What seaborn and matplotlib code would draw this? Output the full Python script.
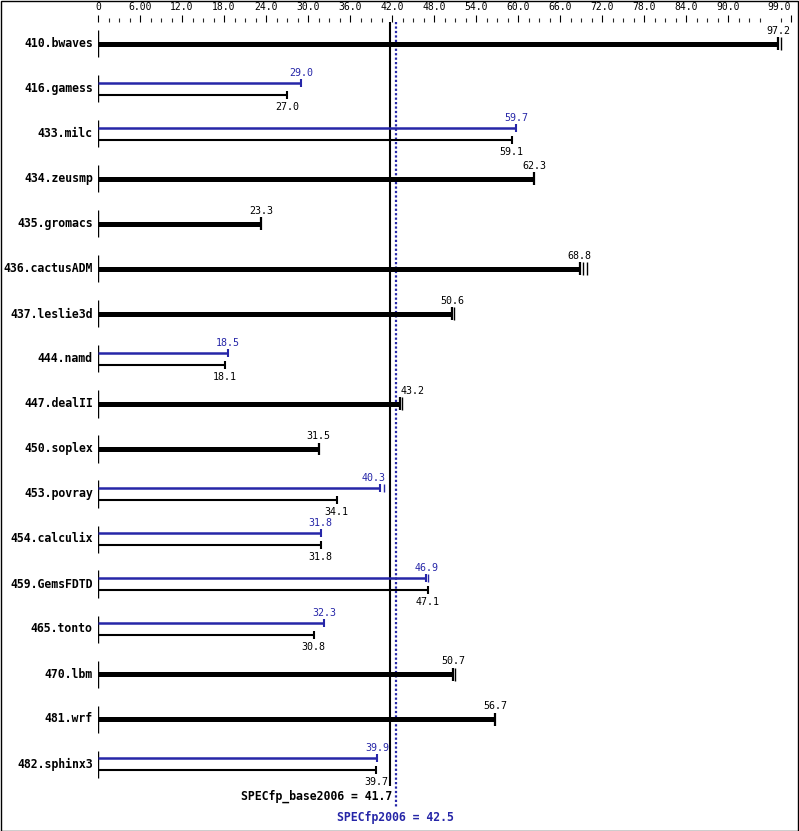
import matplotlib
matplotlib.use("Agg")
import matplotlib.pyplot as plt
import seaborn as sns
import pandas as pd
from matplotlib.patches import Rectangle

benchmarks = ["410.bwaves", "416.gamess", "433.milc", "434.zeusmp", "435.gromacs",
              "436.cactusADM", "437.leslie3d", "444.namd", "447.dealII", "450.soplex",
              "453.povray", "454.calculix", "459.GemsFDTD", "465.tonto", "470.lbm",
              "481.wrf", "482.sphinx3"]
base_scores = [97.2, 27.0, 59.1, 62.3, 23.3, 68.8, 50.6, 18.1, 43.2, 31.5,
               34.1, 31.8, 47.1, 30.8, 50.7, 56.7, 39.7]
# None = peak identical to base (drawn as one thick bar)
peak_scores = [None, 29.0, 59.7, None, None, None, None, 18.5, None, None,
               40.3, 31.8, 46.9, 32.3, None, None, 39.9]
# extra individual-run ticks seen at bar ends
extra_base_runs = {"410.bwaves": [97.5], "436.cactusADM": [69.3, 69.8],
                   "437.leslie3d": [50.9], "447.dealII": [43.4], "470.lbm": [51.0]}
extra_peak_runs = {"453.povray": [40.8], "459.GemsFDTD": [47.1]}
tick_major = [0, 6, 12, 18, 24, 30, 36, 42, 48, 54, 60, 66, 72, 78, 84, 90, 99]
tick_labels = ["0", "6.00", "12.0", "18.0", "24.0", "30.0", "36.0", "42.0", "48.0",
               "54.0", "60.0", "66.0", "72.0", "78.0", "84.0", "90.0", "99.0"]
spec_base = 41.7
spec_peak = 42.5

BLUE = "#2626a8"
df = pd.DataFrame({"bench": benchmarks, "base": base_scores, "peak": peak_scores})
df["row"] = range(len(df))

# label placement tweaks (alignment / x-shift in data units) to avoid the mean lines
label_style = {("447.dealII", "base"): ("left", 0.0), ("453.povray", "peak"): ("center", -0.9)}

sns.set_style("white")
plt.rcParams["font.family"] = ["DejaVu Sans Mono"]

W, H = 799, 831
fig = plt.figure(figsize=(W / 100, H / 100), dpi=100)
ax_left, ax_right, ax_top, ax_bot = 98, 791, 22, 825
ax = fig.add_axes([ax_left / W, (H - ax_bot) / H, (ax_right - ax_left) / W, (ax_bot - ax_top) / H])
row0, rowh = 44, 45
px = 1 / rowh  # one pixel in y data units
ax.set_xlim(0, 99)
ax.set_ylim((ax_bot - row0) / rowh, (ax_top - row0) / rowh)
for s in ax.spines.values():
    s.set_visible(False)
ax.patch.set_alpha(0)

# top ticks
ax.xaxis.tick_top()
ax.set_xticks(tick_major)
ax.set_xticklabels(tick_labels, fontsize=7.0)
ax.get_xticklabels()[-1].set_horizontalalignment("right")
minors = [m * 1.5 for m in range(0, 66) if (m * 1.5) % 6 != 0]
ax.set_xticks(minors, minor=True)
ax.tick_params(axis="x", which="major", length=5, width=0.8, pad=2, top=True, bottom=False, direction="out", colors="black")
ax.tick_params(axis="x", which="minor", length=2.8, width=0.8, top=True, bottom=False, direction="out")
ax.set_yticks([])

def label(bench, kind, x, y, txt, color):
    ha, dx = label_style.get((bench, kind), ("center", 0.0))
    ax.text(x + dx, y, txt, ha=ha, va="center", fontsize=7.2, color=color, zorder=5)

for _, r in df.iterrows():
    y = r["row"]
    b = r["bench"]
    ax.vlines(0, y - 13.5 * px, y + 13.5 * px, color="black", lw=1.0, zorder=3)
    ax.text(-0.75, y, b, ha="right", va="center", fontsize=8.3, fontweight="bold", color="black")
    if pd.isna(r["peak"]):
        ax.hlines(y, 0, r["base"], color="black", lw=3.6, zorder=3)
        ax.vlines(r["base"], y - 6.5 * px, y + 6.5 * px, color="black", lw=1.6, zorder=3)
        for v in extra_base_runs.get(b, []):
            ax.vlines(v, y - 6.5 * px, y + 6.5 * px, color="black", lw=1.0, zorder=3)
        label(b, "base", r["base"], y - 13 * px, f"{r['base']:.1f}", "black")
    else:
        yp, yb = y - 6 * px, y + 6 * px
        ax.hlines(yp, 0, r["peak"], color=BLUE, lw=1.8, zorder=3)
        ax.vlines(r["peak"], yp - 4 * px, yp + 4 * px, color=BLUE, lw=1.5, zorder=3)
        for v in extra_peak_runs.get(b, []):
            ax.vlines(v, yp - 4 * px, yp + 4 * px, color=BLUE, lw=1.0, zorder=3)
        label(b, "peak", r["peak"], y - 16 * px, f"{r['peak']:.1f}", BLUE)
        ax.hlines(yb, 0, r["base"], color="black", lw=1.5, zorder=3)
        ax.vlines(r["base"], yb - 4 * px, yb + 4 * px, color="black", lw=1.5, zorder=3)
        label(b, "base", r["base"], y + 18 * px, f"{r['base']:.1f}", "black")

ytop = (ax_top - row0) / rowh
ax.vlines(spec_base, ytop, (786 - row0) / rowh, color="black", lw=1.5, zorder=1)
ax.vlines(spec_peak, ytop, (808 - row0) / rowh, color=BLUE, lw=1.6, linestyles=(0, (1, 1)), zorder=1)
ax.text(spec_base + 0.3, (796 - row0) / rowh, f"SPECfp_base2006 = {spec_base:.1f}", ha="right",
        va="center", fontsize=8.3, fontweight="bold", color="black")
ax.text(spec_peak, (817 - row0) / rowh, f"SPECfp2006 = {spec_peak:.1f}", ha="center",
        va="center", fontsize=8.3, fontweight="bold", color=BLUE)

fig.patches.append(Rectangle((0.5 / W, 0.5 / H), (W - 1.5) / W, (H - 1.5) / H, transform=fig.transFigure,
                             fill=False, edgecolor="black", lw=1.0))
fig.savefig("out.png", dpi=100)
